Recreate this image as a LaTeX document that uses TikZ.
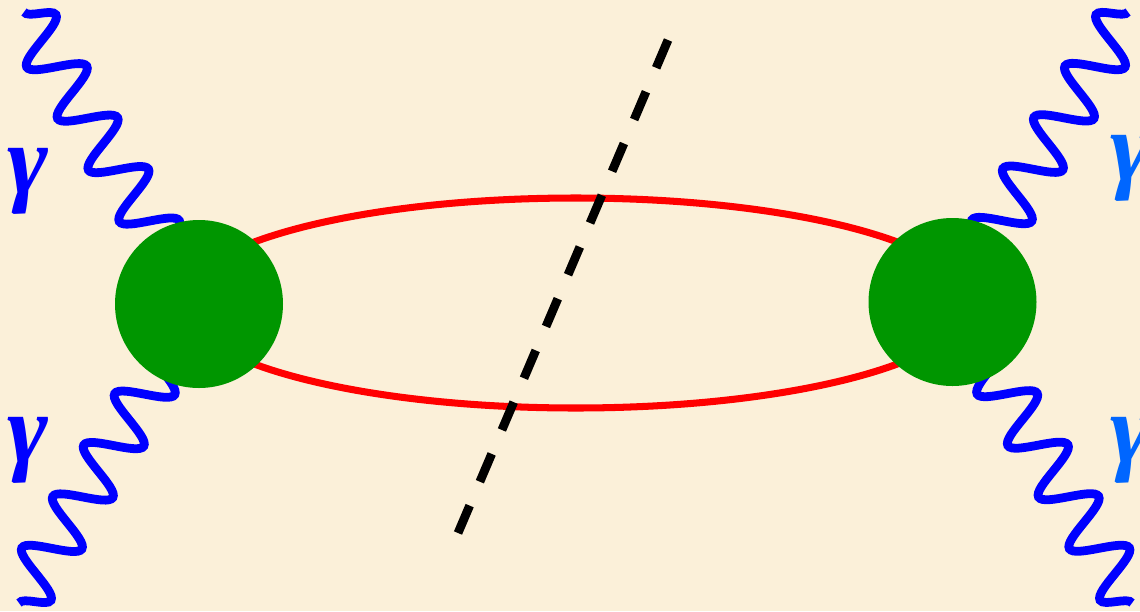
\documentclass[tikz,border=0pt]{standalone}
\usepackage{fontspec}
\newfontfamily\labelfont{Liberation Serif}
\usetikzlibrary{decorations.pathmorphing,calc}
\definecolor{parchment}{HTML}{FBF0D9}
\definecolor{blobgreen}{HTML}{009600}
\definecolor{photonblue}{HTML}{0000FF}
\definecolor{labelblue}{HTML}{0066FF}
\pgfdeclarelayer{back}
\pgfsetlayers{back,main}

\begin{document}
\begin{tikzpicture}[blob/.style={circle,fill=blobgreen,minimum size=16.8mm,inner sep=0pt},photon/.style={draw=photonblue,line width=2.5pt,decorate,decoration={snake,segment length=6mm,amplitude=#1}},fermion/.style={draw=red,line width=2pt},cutline/.style={draw=black,line width=2.5pt,dash pattern=on 8.6pt off 7.4pt},gammalbl/.style={text=#1,anchor=base,inner sep=0pt,font=\labelfont\bfseries\itshape\fontsize{28}{28}\selectfont}]
\useasboundingbox (0,0) rectangle (11.4,6.11);
\node[blob] (lblob) at (1.99,3.07) {};
\node[blob] (rblob) at (9.525,3.09) {};
\coordinate (loop) at ($(lblob)!0.5!(rblob)$);
\coordinate (lt) at (0.24,5.99);
\coordinate (lb) at (0.19,0.08);
\coordinate (rt) at (11.28,5.99);
\coordinate (rb) at (11.32,0.08);
\coordinate (cuttop) at (6.68,5.71);
\coordinate (cutbot) at (4.58,0.78);
\node[gammalbl=photonblue] (glt) at (0.28,4.18) {γ};
\node[gammalbl=photonblue] (glb) at (0.28,1.49) {γ};
\node[gammalbl=labelblue] (grt) at (11.31,4.31) {γ};
\node[gammalbl=labelblue] (grb) at (11.31,1.49) {γ};
\begin{pgfonlayer}{back}
\fill[parchment] (0,0) rectangle (11.4,6.11);
\draw[fermion] (loop) ellipse [x radius=3.95,y radius=1.05];
\draw[photon=2.6mm] (lt)--(lblob.center);
\draw[photon=-2.6mm] (lb)--(lblob.center);
\draw[photon=-2.6mm] (rt)--(rblob.center);
\draw[photon=2.6mm] (rb)--(rblob.center);
\end{pgfonlayer}
\draw[cutline] (cuttop)--(cutbot);
\end{tikzpicture}
\end{document}
